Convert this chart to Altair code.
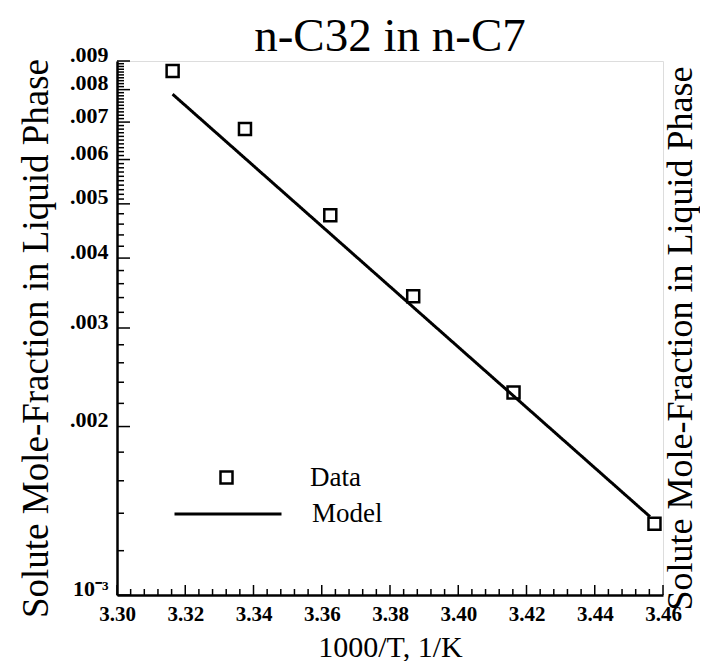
import altair as alt
import pandas as pd

# ---- data ----
X_DATA = [3.3163, 3.3375, 3.3625, 3.3868, 3.4162, 3.4575]
Y_DATA = [0.00864, 0.00680, 0.00477, 0.00342, 0.00230, 0.00134]
X_MODEL = [3.3163, 3.4562]
Y_MODEL = [0.00785, 0.00138]
X_TICKS = [3.30, 3.32, 3.34, 3.36, 3.38, 3.40, 3.42, 3.44, 3.46]
Y_TICKS = [0.001, 0.002, 0.003, 0.004, 0.005, 0.006, 0.007, 0.008, 0.009]

FONT = "Liberation Serif"
W, H = 546, 534

# minor tick positions (layout only)
X_MINOR = [round(3.30 + 0.004 * i, 4) for i in range(41) if i % 5 != 0]
Y_MINOR = [round(0.001 + 0.0002 * i, 5) for i in range(20) if i % 5 != 0] + \
          [round(0.005 + 0.0001 * i, 5) for i in range(40) if i % 10 != 0]

data_df = pd.DataFrame({"x": X_DATA, "y": Y_DATA, "series": "Data"})
model_df = pd.DataFrame({"x": X_MODEL, "y": Y_MODEL, "series": "Model"})
# x ticks start on the bottom edge of the plot (the lowest y value)
xmaj_df = pd.DataFrame({"v": X_TICKS, "b": Y_TICKS[0]})
xmin_df = pd.DataFrame({"v": X_MINOR, "b": Y_TICKS[0]})
ymaj_df = pd.DataFrame({"w": Y_TICKS})
ymin_df = pd.DataFrame({"w": Y_MINOR})

xscale = alt.Scale(domain=[3.30, 3.46], nice=False, zero=False)
yscale = alt.Scale(type="log", domain=[0.001, 0.009], nice=False)
YTITLE = "Solute Mole-Fraction in Liquid Phase"

x_axis = alt.Axis(
    orient="bottom", values=X_TICKS, format=".2f", title="1000/T, 1/K",
    ticks=False, tickSize=0, domain=True, domainColor="black", domainWidth=2.5,
    grid=False, labelFont=FONT, labelFontSize=21, labelFontWeight="bold",
    labelColor="black", labelPadding=8, labelFlush=False,
    titleFont=FONT, titleFontSize=30, titleFontWeight="normal", titleColor="black",
    titlePadding=8,
)
y_axis = alt.Axis(
    orient="left", values=Y_TICKS,
    labelExpr="datum.value < 0.0015 ? '10⁻³' : substring(format(datum.value, '.3f'), 1)",
    title=YTITLE, ticks=False, tickSize=0, domain=True, domainColor="black",
    domainWidth=2.5, grid=False, labelFont=FONT, labelFontSize=22,
    labelFontWeight="bold", labelColor="black", labelPadding=9, labelFlush=False,
    labelBaseline="alphabetic", minExtent=48, maxExtent=48,
    titleFont=FONT, titleFontSize=37, titleFontWeight="normal", titleColor="black",
    titlePadding=14, titleY=277,
)
y_axis_right = alt.Axis(
    orient="right", title=YTITLE, labels=False, ticks=False, domain=False, grid=False,
    minExtent=0, maxExtent=0, titleAngle=270, titleBaseline="top",
    titleFont=FONT, titleFontSize=36, titleFontWeight="normal", titleColor="black",
    titlePadding=0, titleY=277,
)

points = alt.Chart(data_df).mark_point(
    shape="square", filled=False, color="black", strokeWidth=2.5, size=144, opacity=1
).encode(
    x=alt.X("x:Q", scale=xscale, axis=x_axis),
    y=alt.Y("y:Q", scale=yscale, axis=y_axis),
    shape=alt.Shape(
        "series:N", scale=alt.Scale(domain=["Data"], range=["square"]),
        legend=alt.Legend(
            orient="none", legendX=96, legendY=403, title=None, padding=0,
            symbolSize=144, symbolStrokeColor="black", symbolFillColor="transparent",
            symbolStrokeWidth=2.5, labelOffset=70, labelFont=FONT, labelFontSize=27,
            labelColor="black",
        ),
    ),
)

model = alt.Chart(model_df).mark_line(color="black", strokeWidth=3).encode(
    x=alt.X("x:Q", scale=xscale, axis=None),
    y=alt.Y("y:Q", scale=yscale, axis=y_axis_right),
    strokeDash=alt.StrokeDash(
        "series:N", scale=alt.Scale(domain=["Model"], range=[[1, 0]]),
        legend=alt.Legend(
            orient="none", legendX=56, legendY=398, title=None, padding=0,
            symbolSize=11449, symbolStrokeColor="black", symbolStrokeWidth=3,
            labelOffset=29, labelFont=FONT, labelFontSize=27, labelColor="black",
        ),
    ),
)

xmaj = alt.Chart(xmaj_df).mark_rule(color="black", strokeWidth=1.5).encode(
    x=alt.X("v:Q", scale=xscale, axis=None),
    y=alt.Y("b:Q", scale=yscale, axis=None),
    y2=alt.value(H - 10),
)
xmin = alt.Chart(xmin_df).mark_rule(color="black", strokeWidth=1.5).encode(
    x=alt.X("v:Q", scale=xscale, axis=None),
    y=alt.Y("b:Q", scale=yscale, axis=None),
    y2=alt.value(H - 6),
)
ymaj = alt.Chart(ymaj_df).mark_rule(color="black", strokeWidth=1.5).encode(
    y=alt.Y("w:Q", scale=yscale, axis=None), x=alt.value(0), x2=alt.value(13)
)
ymin = alt.Chart(ymin_df).mark_rule(color="black", strokeWidth=1.5).encode(
    y=alt.Y("w:Q", scale=yscale, axis=None), x=alt.value(0), x2=alt.value(7)
)

chart = alt.layer(points, model, xmaj, xmin, ymaj, ymin).resolve_axis(
    x="independent", y="independent"
).properties(
    width=W, height=H,
    autosize=alt.AutoSizeParams(type="none"),
    padding={"left": 109, "top": 53, "right": 37, "bottom": 66},
    title=alt.TitleParams(
        "n-C32 in n-C7", font=FONT, fontSize=47, fontWeight="normal", color="black",
        offset=-18, anchor="middle",
    ),
).configure_view(stroke="black", strokeWidth=1.5).configure(background="white")

chart.save("out.html", embed_options={"renderer": "svg", "actions": False})
